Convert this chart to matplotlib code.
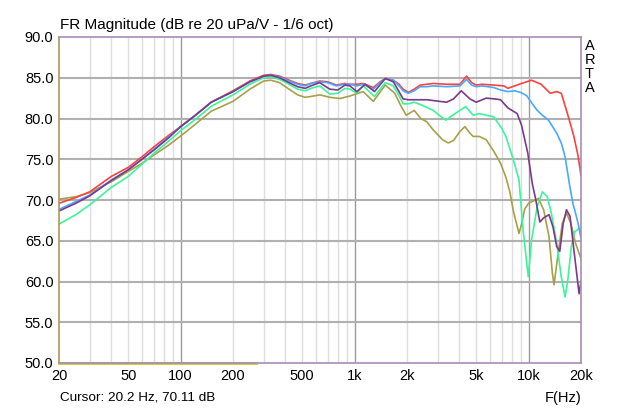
import matplotlib
matplotlib.use('Agg')
import matplotlib.pyplot as plt
from matplotlib.ticker import FixedLocator, NullFormatter

plt.rcParams['font.family'] = ['Liberation Sans', 'DejaVu Sans']

# measured curves, 1/6 octave smoothed (Hz, dB)
red_f = [20, 25, 30, 40, 50, 60, 70, 85, 100, 120, 150, 200, 250, 300, 330, 370, 420, 470, 520,
         560, 630, 700, 785, 880, 940, 1030, 1120, 1280, 1400, 1500, 1670, 1800, 1900, 2035, 2200,
         2380, 2600, 2830, 3380, 4030, 4400, 4700, 5000, 5400, 6300, 7200, 7600, 8300, 9100, 10400,
         11800, 13300, 14500, 15400, 16500, 17400, 18200, 19200, 20000]
red_db = [69.6, 70.3, 71.0, 72.9, 74.0, 75.3, 76.5, 77.9, 79.0, 80.3, 82.0, 83.4, 84.6, 85.3, 85.4,
          85.2, 84.7, 84.3, 84.1, 84.3, 84.6, 84.5, 84.1, 84.3, 84.2, 84.2, 84.3, 83.8, 84.5, 84.9,
          84.7, 84.2, 83.6, 83.2, 83.6, 84.1, 84.2, 84.3, 84.2, 84.2, 85.2, 84.4, 84.1, 84.2, 84.1,
          84.0, 83.7, 84.0, 84.3, 84.7, 84.2, 83.1, 83.3, 83.1, 81.0, 79.3, 77.8, 75.5, 73.0]

blue_f = [20, 25, 30, 40, 50, 60, 70, 85, 100, 120, 150, 200, 250, 300, 330, 370, 420, 470, 520,
          560, 630, 700, 785, 880, 940, 1030, 1120, 1280, 1400, 1500, 1670, 1800, 1900, 2035, 2200,
          2380, 2600, 2830, 3380, 4030, 4400, 4700, 5000, 5400, 6300, 6900, 7600, 8300, 9000, 9750,
          10500, 11200, 12000, 13000, 14500, 15400, 16200, 17300, 18000, 18600, 19300, 20000]
blue_db = [68.85, 69.8, 70.6, 72.45, 73.7, 75.0, 76.2, 77.7, 79.0, 80.3, 82.0, 83.3, 84.5, 85.2,
           85.3, 85.1, 84.6, 84.2, 84.0, 84.3, 84.5, 84.4, 84.0, 84.2, 84.2, 84.0, 84.2, 83.6, 84.4,
           84.9, 84.7, 84.0, 83.4, 83.1, 83.4, 83.9, 83.9, 84.0, 83.9, 84.0, 84.8, 84.1, 83.9, 84.0,
           83.8, 83.5, 83.3, 83.4, 83.2, 82.8, 81.8, 81.0, 80.4, 79.8, 78.2, 77.0, 75.3, 71.5, 69.5,
           68.4, 67.0, 65.3]

purple_f = [20, 25, 30, 40, 50, 60, 70, 85, 100, 120, 150, 200, 250, 300, 330, 370, 420, 470, 520,
            560, 630, 720, 800, 880, 940, 1030, 1150, 1300, 1500, 1670, 1800, 1900, 2035, 2270,
            2600, 2830, 3380, 3700, 4100, 4600, 5000, 5700, 6400, 6900, 7600, 8600, 9100, 9900,
            10500, 11000, 11600, 12200, 13100, 13800, 14500, 15100, 15800, 16500, 17300, 18200,
            19500, 20000]
purple_db = [68.65, 69.6, 70.5, 72.4, 73.7, 75.0, 76.1, 77.6, 79.0, 80.3, 82.0, 83.3, 84.5, 85.2,
             85.3, 85.0, 84.4, 83.9, 83.7, 84.0, 84.4, 83.6, 83.5, 84.1, 84.0, 83.3, 84.2, 83.3,
             84.9, 84.5, 83.3, 82.4, 82.3, 82.3, 82.3, 82.2, 82.0, 82.4, 83.4, 82.4, 82.0, 82.5,
             82.4, 82.3, 81.3, 80.6, 79.2, 75.7, 72.0, 70.0, 67.3, 67.8, 68.2, 66.7, 64.3, 63.7,
             67.1, 68.8, 68.0, 63.9, 58.5, 60.0]

green_f = [20, 25, 30, 40, 50, 60, 70, 85, 100, 120, 150, 200, 250, 300, 330, 370, 420, 470, 520,
           560, 630, 720, 800, 880, 940, 1030, 1120, 1300, 1500, 1670, 1800, 1900, 2035, 2200, 2400,
           2830, 3100, 3350, 3600, 4030, 4350, 4800, 5200, 6300, 7000, 7400, 8100, 8800, 9300, 9950,
           10400, 11200, 12000, 12800, 13500, 14500, 15400, 16200, 16800, 17600, 18400, 19500, 20000]
green_db = [67.05, 68.2, 69.4, 71.56, 72.9, 74.4, 75.7, 77.2, 78.5, 79.8, 81.5, 82.9, 84.2, 85.0,
            85.1, 84.8, 84.2, 83.6, 83.4, 83.7, 84.0, 83.0, 83.1, 83.7, 83.6, 83.1, 84.0, 82.7,
            84.4, 84.0, 82.8, 81.8, 81.8, 82.0, 81.7, 81.0, 80.3, 79.8, 80.3, 81.0, 81.45, 80.4,
            80.6, 80.2, 78.8, 77.8, 75.2, 72.5, 66.3, 60.6, 65.1, 69.2, 71.0, 70.4, 68.4, 64.7,
            60.6, 58.1, 60.2, 64.3, 66.1, 66.5, 66.3]

olive_f = [20, 25, 30, 40, 50, 60, 70, 85, 100, 120, 150, 200, 250, 300, 330, 370, 420, 470, 520,
           560, 632, 720, 824, 940, 1120, 1280, 1500, 1700, 1850, 1980, 2200, 2400, 2600, 2830, 3200,
           3450, 3700, 4030, 4300, 4600, 4800, 5200, 5700, 6300, 6900, 7400, 7800, 8200, 8800, 9100,
           9500, 10000, 11400, 12200, 13100, 13700, 14000, 14600, 15600, 16500, 17500, 18600, 20000]
olive_db = [70.1, 70.4, 70.9, 72.25, 73.5, 74.5, 75.5, 76.7, 77.85, 79.2, 80.9, 82.1, 83.6, 84.6,
            84.7, 84.4, 83.6, 82.9, 82.6, 82.7, 82.9, 82.6, 82.45, 82.76, 83.3, 82.1, 84.1, 83.1,
            81.5, 80.4, 81.0, 80.0, 79.6, 78.6, 77.4, 77.0, 77.3, 78.4, 79.0, 78.2, 77.8, 77.8,
            77.4, 76.0, 74.5, 72.8, 71.0, 68.5, 65.9, 67.0, 68.9, 69.6, 70.2, 68.8, 65.5, 61.0,
            59.6, 62.6, 67.1, 68.4, 67.1, 64.7, 62.8]

# trace sitting on the bottom edge
floor_f = [20, 270]
floor_db = [50.0, 50.0]

xticks = [20, 50, 100, 200, 500, 1000, 2000, 5000, 10000, 20000]
xlabels = ['20', '50', '100', '200', '500', '1k', '2k', '5k', '10k', '20k']
yticks = [50, 55, 60, 65, 70, 75, 80, 85, 90]

fig = plt.figure(figsize=(6.4, 4.09), dpi=100)
ax = fig.add_axes([59 / 640, 1 - 363 / 409, 522 / 640, 326 / 409])

ax.set_xscale('log')
ax.set_xlim(20, 20000)
ax.set_ylim(50, 90)

# grid
minor = [f * m for f in (10, 100, 1000) for m in range(2, 10) if 20 < f * m < 20000]
for f in minor:
    ax.axvline(f, color='#dedede', lw=1.0, zorder=0)
for f in [100, 1000, 10000]:
    ax.axvline(f, color='#9c9c9c', lw=1.0, zorder=0)
for v in yticks[1:-1]:
    ax.axhline(v, color='#b0b0b0', lw=1.5, zorder=0)

lw = 1.2
ax.plot(olive_f, olive_db, color='#a8a048', lw=lw)
ax.plot(green_f, green_db, color='#3cf59a', lw=lw)
ax.plot(red_f, red_db, color='#ff4040', lw=lw)
ax.plot(blue_f, blue_db, color='#4aa8ff', lw=lw)
ax.plot(purple_f, purple_db, color='#7a3a8c', lw=lw)
ax.plot(floor_f, floor_db, color='#c8c820', lw=2.0, clip_on=False)

for s in ax.spines.values():
    s.set_color('#a88cb4')
    s.set_linewidth(1.2)
ax.spines['left'].set_color('#b09850')

ax.xaxis.set_major_locator(FixedLocator(xticks))
ax.set_xticklabels(xlabels)
ax.xaxis.set_minor_formatter(NullFormatter())
ax.xaxis.set_minor_locator(FixedLocator([]))
ax.set_yticks(yticks)
ax.set_yticklabels([f'{v:.1f}' for v in yticks])
ax.tick_params(length=0, labelsize=10.5, pad=4)

fig.text(60 / 640, 1 - 25 / 409, 'FR Magnitude (dB re 20 uPa/V - 1/6 oct)',
         fontsize=11, va='center', ha='left')
fig.text(60 / 640, 1 - 398 / 409, 'Cursor: 20.2 Hz, 70.11 dB', fontsize=9.7, va='center')
fig.text(581 / 640, 1 - 398 / 409, 'F(Hz)', fontsize=10.5, va='center', ha='right')
for i, ch in enumerate('ARTA'):
    fig.text(585 / 640, 1 - (46 + i * 14) / 409, ch, fontsize=10.5, va='center', ha='left')

fig.savefig('out.png', dpi=100)
